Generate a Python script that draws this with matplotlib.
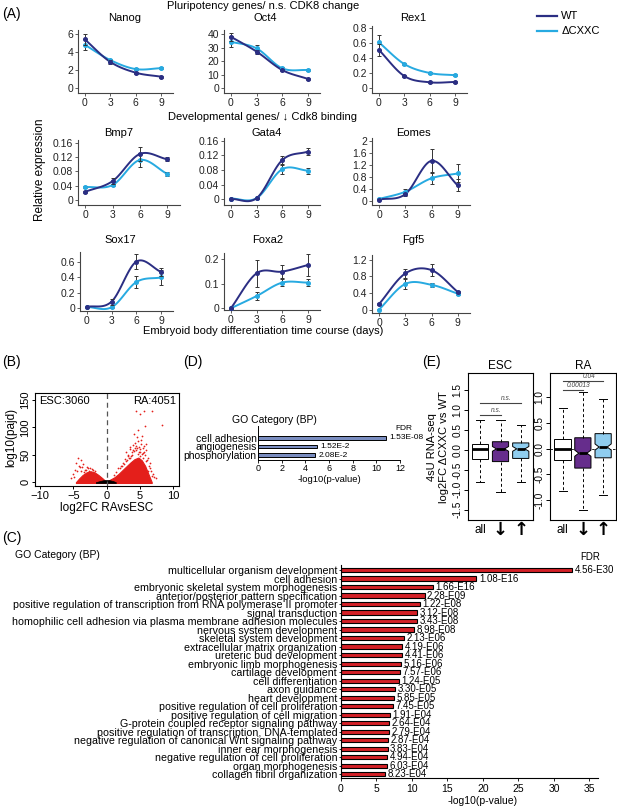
import numpy as np
import matplotlib
matplotlib.use('Agg')
import matplotlib.pyplot as plt
from matplotlib import font_manager

plt.rcParams['font.family'] = ['Liberation Sans', 'DejaVu Sans']
plt.rcParams['axes.unicode_minus'] = True

try:
    font_manager.findfont('Liberation Sans Narrow', fallback_to_default=False)
    NARROW = ['Liberation Sans Narrow', 'DejaVu Sans']
except Exception:
    NARROW = ['Liberation Sans', 'DejaVu Sans']

# ---------------- data ----------------
days = [0, 3, 6, 9]
genes = ['Nanog', 'Oct4', 'Rex1', 'Bmp7', 'Gata4', 'Eomes', 'Sox17', 'Foxa2', 'Fgf5']
wt = {
    'Nanog': [5.4, 2.9, 1.7, 1.25],
    'Oct4': [38, 27, 13.3, 6.7],
    'Rex1': [0.51, 0.16, 0.076, 0.08],
    'Bmp7': [0.023, 0.053, 0.129, 0.114],
    'Gata4': [0.001, 0.003, 0.107, 0.130],
    'Eomes': [0.05, 0.23, 1.34, 0.52],
    'Sox17': [0.01, 0.08, 0.61, 0.47],
    'Foxa2': [0.0, 0.143, 0.15, 0.177],
    'Fgf5': [0.14, 0.87, 0.95, 0.43],
}
cxxc = {
    'Nanog': [4.8, 3.1, 2.1, 2.2],
    'Oct4': [34.3, 29.4, 14.6, 13.3],
    'Rex1': [0.61, 0.32, 0.2, 0.17],
    'Bmp7': [0.036, 0.042, 0.112, 0.073],
    'Gata4': [0.002, 0.003, 0.082, 0.078],
    'Eomes': [0.07, 0.31, 0.76, 0.92],
    'Sox17': [0.01, 0.005, 0.34, 0.40],
    'Foxa2': [0.0, 0.05, 0.105, 0.105],
    'Fgf5': [0.01, 0.62, 0.60, 0.39],
}
wt_err = {
    'Nanog': [0.6, 0.2, 0.1, 0.1],
    'Oct4': [3, 1.5, 1, 0.7],
    'Rex1': [0.08, 0.01, 0.01, 0.01],
    'Bmp7': [0.003, 0.008, 0.02, 0.006],
    'Gata4': [0.001, 0.001, 0.012, 0.01],
    'Eomes': [0.02, 0.05, 0.4, 0.2],
    'Sox17': [0.005, 0.04, 0.1, 0.05],
    'Foxa2': [0.002, 0.055, 0.025, 0.045],
    'Fgf5': [0.02, 0.1, 0.15, 0.03],
}
cxxc_err = {
    'Nanog': [0.6, 0.15, 0.1, 0.1],
    'Oct4': [4, 2.5, 1, 1],
    'Rex1': [0.1, 0.01, 0.01, 0.01],
    'Bmp7': [0.003, 0.004, 0.02, 0.006],
    'Gata4': [0.001, 0.001, 0.012, 0.008],
    'Eomes': [0.02, 0.1, 0.2, 0.3],
    'Sox17': [0.005, 0.005, 0.08, 0.1],
    'Foxa2': [0.002, 0.015, 0.015, 0.015],
    'Fgf5': [0.01, 0.13, 0.05, 0.03],
}
yticks_A = {
    'Nanog': [0, 2, 4, 6], 'Oct4': [0, 10, 20, 30, 40], 'Rex1': [0, 0.2, 0.4, 0.6, 0.8],
    'Bmp7': [0, 0.04, 0.08, 0.12, 0.16], 'Gata4': [0, 0.04, 0.08, 0.12, 0.16],
    'Eomes': [0, 0.4, 0.8, 1.2, 1.6, 2], 'Sox17': [0, 0.2, 0.4, 0.6],
    'Foxa2': [0, 0.1, 0.2], 'Fgf5': [0, 0.4, 0.8, 1.2],
}

# volcano (B): outline of dense point clouds and scattered points
esc_cloud_x = [-0.15, -0.6, -1.2, -1.8, -2.4, -3.0, -3.6, -4.1, -4.6]
esc_cloud_y = [2, 7, 13, 18, 20, 18, 13, 7, 0]
ra_cloud_x = [0.15, 0.6, 1.2, 1.8, 2.4, 3.0, 3.6, 4.2, 4.8, 5.3, 5.8, 6.3, 6.8]
ra_cloud_y = [2, 5, 9, 15, 22, 29, 36, 42, 45, 40, 30, 15, 0]
ns_x = [-1.6, -1.0, -0.5, 0, 0.5, 1.0, 1.4]
ns_y = [0, 2, 3.5, 4, 3.5, 2, 0]
sig_pts_x = [4.4, 5.65, 6.85, 5.0, 5.75, 8.35, 4.65, 3.5, 4.0, 4.3, 4.8, 5.2, 5.5, 3.8, 4.5,
             5.0, 5.8, 6.2, 6.5, 3.2, 2.8, 2.5, 6.0, 5.3, 4.2, 3.0, 4.7, 6.6, 7.0, 7.5, 5.5,
             2.2, 1.8, 3.6, 4.9, 5.9, 6.3,
             2.0, 2.6, 3.1, 3.4, 3.9, 4.1, 4.6, 5.1, 5.4, 5.6, 6.1, 6.4, 6.9, 3.3, 3.7, 4.4,
             4.9, 5.2, 5.7, 2.4, 2.9, 3.5, 4.0, 4.3, 4.7, 6.7, 7.2, 1.5, 1.2, 5.0, 5.5, 6.0,
             -4.3, -3.9, -4.6, -3.5, -3.0, -2.8, -4.8, -5.0, -3.3, -2.2, -1.8, -4.2, -5.3, -3.7,
             -2.5, -3.1, -4.0, -4.5, -1.5, -2.0, -3.4, -4.9, -2.7, -3.8]
sig_pts_y = [130, 130, 130, 124, 102, 104, 82, 60, 68, 72, 75, 70, 62, 55, 58,
             55, 50, 45, 35, 48, 42, 35, 58, 85, 88, 55, 95, 25, 15, 8, 45,
             30, 25, 65, 64, 70, 20,
             26, 33, 40, 44, 50, 57, 63, 60, 52, 66, 40, 30, 12, 50, 47, 66,
             55, 78, 56, 30, 38, 45, 58, 62, 52, 20, 10, 18, 13, 48, 54, 38,
             45, 40, 35, 33, 28, 25, 22, 15, 22, 24, 20, 30, 8, 27,
             25, 22, 28, 20, 14, 22, 18, 10, 21, 20]

# D
d_terms = ['cell adhesion', 'angiogenesis', 'phosphorylation']
d_vals = [10.85, 4.99, 4.85]
d_fdr = ['1.53E-08', '1.52E-2', '2.08E-2']

# C
c_terms = ['multicellular organism development', 'cell adhesion',
           'embryonic skeletal system morphogenesis', 'anterior/posterior pattern specification',
           'positive regulation of transcription from RNA polymerase II promoter',
           'signal transduction',
           'homophilic cell adhesion via plasma membrane adhesion molecules',
           'nervous system development', 'skeletal system development',
           'extracellular matrix organization', 'ureteric bud development',
           'embryonic limb morphogenesis', 'cartilage development', 'cell differentiation',
           'axon guidance', 'heart development', 'positive regulation of cell proliferation',
           'positive regulation of cell migration', 'G-protein coupled receptor signaling pathway',
           'positive regulation of transcription, DNA-templated',
           'negative regulation of canonical Wnt signaling pathway', 'inner ear morphogenesis',
           'negative regulation of cell proliferation', 'organ morphogenesis',
           'collagen fibril organization']
c_vals = [32.6, 19.1, 13.0, 11.8, 11.1, 10.8, 10.7, 10.3, 8.9, 8.6, 8.6, 8.5, 8.3, 8.2,
          7.7, 7.5, 7.4, 6.9, 6.8, 6.8, 6.7, 6.6, 6.55, 6.45, 6.3]
c_fdr = ['4.56-E30', '1.08-E16', '1.66-E16', '2.28-E09', '1.22-E08', '3.12-E08', '3.43-E08',
         '8.98-E08', '2.13-E06', '4.19-E06', '4.41-E06', '5.16-E06', '7.57-E06', '1.24-E05',
         '3.30-E05', '5.85-E05', '7.45-E05', '1.91-E04', '2.64-E04', '2.79-E04', '2.87-E04',
         '3.83-E04', '4.94-E04', '6.03-E04', '8.23-E04']

# E boxplots (q1, med, q3, whislo, whishi)
e_groups = ['all', 'down', 'up']
esc_q1 = [-0.22, -0.29, -0.21]
esc_med = [0.02, 0.03, 0.03]
esc_q3 = [0.16, 0.21, 0.18]
esc_lo = [-0.80, -1.05, -0.80]
esc_hi = [0.76, 0.76, 0.63]
ra_q1 = [-0.22, -0.38, -0.18]
ra_med = [0.0, -0.09, 0.03]
ra_q3 = [0.19, 0.21, 0.29]
ra_lo = [-0.82, -1.20, -0.90]
ra_hi = [0.79, 1.11, 0.96]
esc_pvals = ['n.s.', 'n.s.']
ra_pvals = ['0.00013', '0.04']

# ---------------- helpers ----------------
W, H = 617, 809
fig = plt.figure(figsize=(W / 100, H / 100), dpi=100)


def add_ax(l, t, r, b):
    return fig.add_axes([l / W, 1 - b / H, (r - l) / W, (b - t) / H])


def ftext(x, y, s, **kw):
    return fig.text(x / W, 1 - y / H, s, **kw)


def smooth(x, y, n=20):
    x = np.asarray(x, float)
    y = np.asarray(y, float)
    px = np.concatenate([[2 * x[0] - x[1]], x, [2 * x[-1] - x[-2]]])
    py = np.concatenate([[2 * y[0] - y[1]], y, [2 * y[-1] - y[-2]]])
    t = np.linspace(0, 1, n)
    h00 = 2 * t**3 - 3 * t**2 + 1
    h10 = t**3 - 2 * t**2 + t
    h01 = -2 * t**3 + 3 * t**2
    h11 = t**3 - t**2
    xs, ys = [], []
    for i in range(1, len(px) - 2):
        for arr, out in ((px, xs), (py, ys)):
            p0, p1, p2, p3 = arr[i - 1:i + 3]
            m1 = (p2 - p0) / 2
            m2 = (p3 - p1) / 2
            out.append(h00 * p1 + h10 * m1 + h01 * p2 + h11 * m2)
    return np.concatenate(xs), np.concatenate(ys)


WT_C = '#2B2E83'
CX_C = '#27AAE1'

# ---------------- panel A ----------------
A_layout = {
    'Nanog': ((78, 30, 173, 93), (-0.56, 6.44), 125),
    'Oct4': ((224, 30, 320, 93), (-3.7, 43), 265),
    'Rex1': ((372, 26, 467, 93), (-0.067, 0.827), 413),
    'Bmp7': ((78, 140, 180, 205), (-0.014, 0.168), 119),
    'Gata4': ((224, 138, 320, 205), (-0.0156, 0.167), 267),
    'Eomes': ((372, 138, 470, 205), (-0.13, 2.1), 413),
    'Sox17': ((80, 252, 173, 311), (-0.044, 0.736), 120),
    'Foxa2': ((224, 253, 320, 310), (-0.007, 0.226), 268),
    'Fgf5': ((372, 255, 470, 312.7), (-0.064, 1.31), 413),
}
title_y = {'Nanog': 18, 'Oct4': 18, 'Rex1': 18, 'Bmp7': 133, 'Gata4': 133, 'Eomes': 133,
           'Sox17': 240, 'Foxa2': 240, 'Fgf5': 240}

for g in genes:
    box, ylim, tx = A_layout[g]
    ax = add_ax(*box)
    for vals, errs, col, z in ((cxxc[g], cxxc_err[g], CX_C, 2), (wt[g], wt_err[g], WT_C, 3)):
        sx, sy = smooth(days, vals)
        ax.plot(sx, sy, color=col, lw=1.4, zorder=z, solid_capstyle='round')
        ax.errorbar(days, vals, yerr=errs, fmt='o', ms=2.6, color=col, ecolor='#333333',
                    elinewidth=0.7, capsize=1.2, capthick=0.7, zorder=z + 2)
    ax.set_xlim(-0.8, 10.4)
    ax.set_ylim(*ylim)
    ax.set_xticks(days)
    ax.set_yticks(yticks_A[g])
    ax.set_yticklabels(['0' if v == 0 else ('%g' % v) for v in yticks_A[g]])
    for s in ('top', 'right'):
        ax.spines[s].set_visible(False)
    for s in ('left', 'bottom'):
        ax.spines[s].set_linewidth(0.8)
        ax.spines[s].set_color('#444444')
    ax.tick_params(labelsize=7.5, length=2, width=0.6, pad=1.5, colors='#444444', labelcolor='#222222')
    ftext(tx, title_y[g], g, ha='center', va='center', fontsize=8)

ftext(2, 14, '(A)', fontsize=10, va='center')
ftext(263, 6, 'Pluripotency genes/ n.s. CDK8 change', ha='center', va='center', fontsize=8)
ftext(263, 117, 'Developmental genes/ \u2193 Cdk8 binding', ha='center', va='center', fontsize=8)
ftext(40, 170, 'Relative expression', rotation=90, ha='center', va='center', fontsize=8.5)
ftext(263, 331, 'Embryoid body differentiation time course (days)', ha='center', va='center', fontsize=8)
# legend
legax = add_ax(535, 8, 612, 40)
legax.axis('off')
legax.set_xlim(0, 1)
legax.set_ylim(0, 1)
legax.plot([0.03, 0.28], [0.75, 0.75], color=WT_C, lw=1.6)
legax.plot([0.03, 0.28], [0.27, 0.27], color=CX_C, lw=1.6)
legax.text(0.34, 0.75, 'WT', va='center', fontsize=8)
legax.text(0.34, 0.27, '\u0394CXXC', va='center', fontsize=8)

# ---------------- panel B ----------------
RED = '#E41F1B'
axB = add_ax(35, 393, 179, 486)
axB.fill_between(esc_cloud_x, -1.5, esc_cloud_y, color=RED, lw=0.8, zorder=1)
axB.fill_between(ra_cloud_x, -1.5, ra_cloud_y, color=RED, lw=0.8, zorder=1)
axB.scatter(sig_pts_x, sig_pts_y, s=1.6, color=RED, lw=0, zorder=2)
axB.fill_between(ns_x, -1.5, ns_y, color='black', lw=0.5, zorder=3)
axB.axvline(0, color='#555555', lw=0.9, ls=(0, (4, 3)), zorder=4)
axB.set_xlim(-10.75, 10.9)
axB.set_ylim(-7, 163)
axB.set_xticks([-10, -5, 0, 5, 10])
axB.set_yticks([0, 50, 100, 150])
axB.set_yticklabels(['0', '50', '100', '150'], rotation=90, va='center')
axB.tick_params(labelsize=8, length=2.5, width=0.7, pad=0.8)
for s in axB.spines.values():
    s.set_linewidth(0.8)
axB.text(0.03, 0.97, 'ESC:3060', transform=axB.transAxes, ha='left', va='top', fontsize=8)
axB.text(0.98, 0.97, 'RA:4051', transform=axB.transAxes, ha='right', va='top', fontsize=8)
ftext(107, 508, 'log2FC RAvsESC', ha='center', va='center', fontsize=8.5)
ftext(11, 437, 'log10(pajd)', rotation=90, ha='center', va='center', fontsize=8.5)
ftext(2, 362, '(B)', fontsize=10, va='center')

# ---------------- panel D ----------------
axD = add_ax(258, 426, 400, 460)
yD = np.arange(len(d_terms))
axD.barh(yD, d_vals, height=0.42, color='#7A8DC0', edgecolor='black', lw=0.7)
axD.set_ylim(2.55, -1.35)
axD.set_xlim(0, 12)
axD.set_xticks([0, 2, 4, 6, 8, 10, 12])
axD.set_yticks(yD)
axD.set_yticklabels(d_terms, fontsize=7.5, family=NARROW)
for lab in axD.get_xticklabels():
    lab.set_family(NARROW)
axD.tick_params(axis='x', labelsize=6.5, length=2, width=0.6, pad=0.8)
axD.tick_params(axis='y', length=0, pad=1)
for s in ('top', 'right'):
    axD.spines[s].set_visible(False)
for s in ('left', 'bottom'):
    axD.spines[s].set_linewidth(0.7)
for y, v, f in zip(yD, d_vals, d_fdr):
    axD.text(v + 0.25, y, f, va='center', ha='left', fontsize=6, family=NARROW, clip_on=False)
ftext(329, 480, '-log10(p-value)', ha='center', va='center', fontsize=6.8, family=NARROW)
ftext(232, 420, 'GO Category (BP)', ha='left', va='center', fontsize=7.5, family=NARROW)
ftext(404, 428, 'FDR', ha='center', va='center', fontsize=6, family=NARROW)
ftext(183, 362, '(D)', fontsize=10, va='center')

# ---------------- panel C ----------------
axC = add_ax(340.7, 565, 598, 778.3)
yC = np.arange(len(c_terms))
axC.barh(yC, c_vals, height=0.5, color='#D42027', edgecolor='black', lw=0.8)
axC.set_ylim(24.47, -0.59)
axC.set_xlim(0, 36.2)
axC.set_xticks([0, 5, 10, 15, 20, 25, 30, 35])
axC.set_yticks(yC)
axC.set_yticklabels(c_terms, fontsize=7.7)
axC.tick_params(axis='x', labelsize=7.5, length=2.5, width=0.6, pad=1.5)
axC.tick_params(axis='y', length=1.5, width=0.6, pad=1)
for s in ('top', 'right'):
    axC.spines[s].set_visible(False)
for s in ('left', 'bottom'):
    axC.spines[s].set_linewidth(0.8)
for y, v, f in zip(yC, c_vals, c_fdr):
    axC.text(v + 0.35, y, f, va='center', ha='left', fontsize=7, clip_on=False)
ftext(483, 801, '-log10(p-value)', ha='center', va='center', fontsize=7.5)
ftext(15, 555, 'GO Category (BP)', ha='left', va='center', fontsize=7.5)
ftext(590, 557, 'FDR', ha='center', va='center', fontsize=7)
ftext(2, 538, '(C)', fontsize=10, va='center')

# ---------------- panel E ----------------
E_COLORS = ['white', '#662D8C', '#8FCDEF']


def draw_boxes(ax, q1, med, q3, lo, hi):
    for i in range(3):
        st = dict(med=med[i], q1=q1[i], q3=q3[i], whislo=lo[i], whishi=hi[i], fliers=[],
                  cilo=med[i] - (0.012 if i == 0 else 0.06),
                  cihi=med[i] + (0.012 if i == 0 else 0.06))
        ax.bxp([st], positions=[i + 1], widths=0.8, patch_artist=True, showfliers=False,
               shownotches=(i > 0), capwidths=[0.4],
               boxprops=dict(facecolor=E_COLORS[i], edgecolor='black', lw=0.7),
               medianprops=dict(color='black', lw=2.0),
               whiskerprops=dict(color='black', lw=0.7, linestyle=(0, (3, 2.5))),
               capprops=dict(color='black', lw=0.7))
    ax.set_xlim(0.38, 3.62)
    ax.set_xticks([])
    for s in ax.spines.values():
        s.set_linewidth(0.8)
    ax.tick_params(axis='y', labelsize=7.2, length=3, width=0.7, pad=0.8)
    for xi, lab in zip([1, 2, 3], ['all', '\u2193', '\u2191']):
        if lab == 'all':
            ax.text(xi, -0.065, lab, transform=ax.get_xaxis_transform(), ha='center', va='center',
                    fontsize=8.5, clip_on=False)
        else:
            ax.text(xi, -0.07, lab, transform=ax.get_xaxis_transform(), ha='center', va='center',
                    fontsize=13, fontweight='bold', family=['DejaVu Sans'], clip_on=False)


def sig(ax, x1, x2, y, label):
    ax.plot([x1, x2], [y, y], color='#444444', lw=0.8)
    ax.text((x1 + x2) / 2 + 0.3, y + 0.02, label, ha='center', va='bottom', fontsize=4.8,
            style='italic', color='#444444')


axE1 = add_ax(467.7, 373, 533.3, 520)
draw_boxes(axE1, esc_q1, esc_med, esc_q3, esc_lo, esc_hi)
axE1.set_ylim(-1.76, 1.94)
ticks1 = [-1.5, -1.0, -0.5, 0.0, 0.5, 1.0, 1.5]
axE1.set_yticks(ticks1)
axE1.set_yticklabels(['%.1f' % t for t in ticks1], rotation=90, va='center')
sig(axE1, 1, 3, 1.18, esc_pvals[1])
sig(axE1, 1, 2, 0.88, esc_pvals[0])
axE1.set_title('ESC', fontsize=8.5, pad=3)

axE2 = add_ax(550, 373, 615.7, 520)
axE2.axhline(0, color='black', lw=0.6, ls=(0, (3, 2)), zorder=0.5)
draw_boxes(axE2, ra_q1, ra_med, ra_q3, ra_lo, ra_hi)
axE2.set_ylim(-1.39, 1.47)
ticks2 = [-1.0, -0.5, 0.0, 0.5, 1.0]
axE2.set_yticks(ticks2)
axE2.set_yticklabels(['%.1f' % t for t in ticks2], rotation=90, va='center')
sig(axE2, 1, 3, 1.32, ra_pvals[1])
sig(axE2, 1, 2, 1.14, ra_pvals[0])
axE2.set_title('RA', fontsize=8.5, pad=3)

ftext(432, 447, '4sU RNA-seq', rotation=90, ha='center', va='center', fontsize=8)
ftext(444, 447, 'log2FC \u0394CXXC vs WT', rotation=90, ha='center', va='center', fontsize=8)
ftext(422, 362, '(E)', fontsize=10, va='center')

fig.savefig('out.png', dpi=100)
